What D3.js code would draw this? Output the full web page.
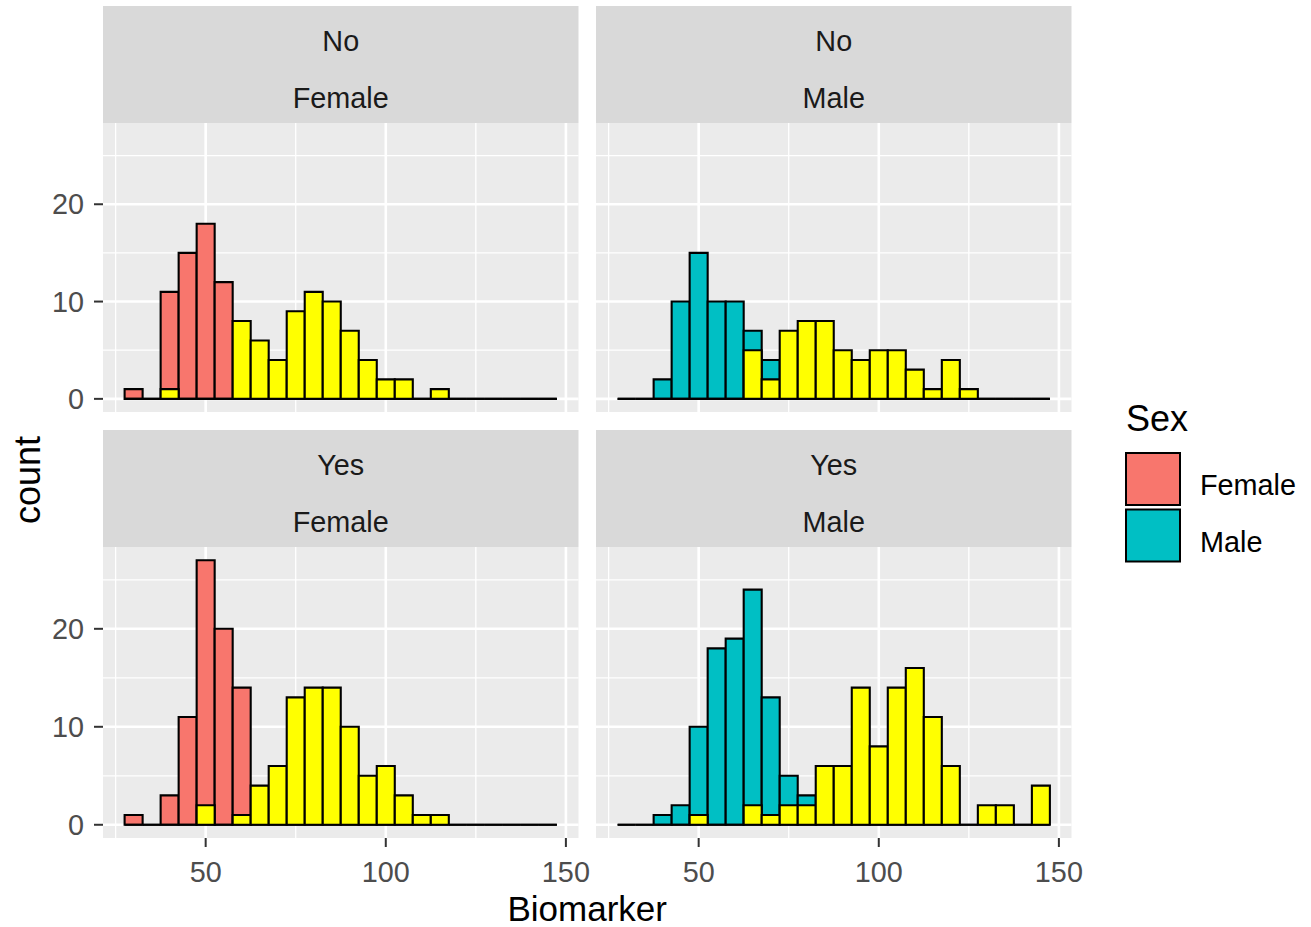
<!DOCTYPE html>
<html>
<head>
<meta charset="utf-8">
<script src="https://cdn.jsdelivr.net/npm/d3@7"></script>
<style>
  html, body { margin: 0; padding: 0; background: #fff; }
  svg { display: block; font-family: "Liberation Sans", Arial, sans-serif; }
</style>
</head>
<body>
<svg id="chart" width="1311" height="927"></svg>
<script>
// Histogram bins: width 5, centred on 30, 35, ..., 145
const binCenters = [30, 35, 40, 45, 50, 55, 60, 65, 70, 75, 80, 85,
                    90, 95, 100, 105, 110, 115, 120, 125, 130, 135, 140, 145];
const binWidth = 5;

// Facet labels
const diagnosisLevels = ["No", "Yes"];
const sexLevels = ["Female", "Male"];

// Counts per bin for the Sex-coloured histogram
const noFemaleCounts  = [1, 0, 11, 15, 18, 12, 0, 0, 0, 0, 0, 0, 0, 0, 0, 0, 0, 0, 0, 0, 0, 0, 0, 0];
const noMaleCounts    = [0, 0, 2, 10, 15, 10, 10, 7, 4, 0, 0, 0, 0, 0, 0, 0, 0, 0, 0, 0, 0, 0, 0, 0];
const yesFemaleCounts = [1, 0, 3, 11, 27, 20, 14, 0, 0, 0, 0, 0, 0, 0, 0, 0, 0, 0, 0, 0, 0, 0, 0, 0];
const yesMaleCounts   = [0, 0, 1, 2, 10, 18, 19, 24, 13, 5, 3, 0, 0, 0, 0, 0, 0, 0, 0, 0, 0, 0, 0, 0];

// Counts per bin for the yellow overlay histogram
const noFemaleOverlay  = [0, 0, 1, 0, 0, 0, 8, 6, 4, 9, 11, 10, 7, 4, 2, 2, 0, 1, 0, 0, 0, 0, 0, 0];
const noMaleOverlay    = [0, 0, 0, 0, 0, 0, 0, 5, 2, 7, 8, 8, 5, 4, 5, 5, 3, 1, 4, 1, 0, 0, 0, 0];
const yesFemaleOverlay = [0, 0, 0, 0, 2, 0, 1, 4, 6, 13, 14, 14, 10, 5, 6, 3, 1, 1, 0, 0, 0, 0, 0, 0];
const yesMaleOverlay   = [0, 0, 0, 0, 1, 0, 0, 2, 1, 2, 2, 6, 6, 14, 8, 14, 16, 11, 6, 0, 2, 2, 0, 4];

const xTicks = [50, 100, 150];
const xMinor = [25, 75, 125];
const yTicks = [0, 10, 20];
const yMinor = [5, 15, 25];

const sexColors = { Female: "#F8766D", Male: "#00BFC4" };
const overlayColor = "#FFFF00";

const panels = [
  { row: 0, col: 0, diag: "No",  sex: "Female", counts: noFemaleCounts,  overlay: noFemaleOverlay },
  { row: 0, col: 1, diag: "No",  sex: "Male",   counts: noMaleCounts,    overlay: noMaleOverlay },
  { row: 1, col: 0, diag: "Yes", sex: "Female", counts: yesFemaleCounts, overlay: yesFemaleOverlay },
  { row: 1, col: 1, diag: "Yes", sex: "Male",   counts: yesMaleCounts,   overlay: yesMaleOverlay }
];

// Layout
const colX = [103, 596];
const panelW = 475.5;
const stripTop = [6, 430];
const stripH = 117;
const panelH = [289, 291];

const svg = d3.select("#chart");

// Shared x scale (fixed across facets), 5% expansion
const xLo = binCenters[0] - binWidth / 2, xHi = binCenters[binCenters.length - 1] + binWidth / 2;
const xPad = (xHi - xLo) * 0.05;
const x = d3.scaleLinear().domain([xLo - xPad, xHi + xPad]).range([0, panelW]);

const yMax = d3.max(panels, p => Math.max(d3.max(p.counts), d3.max(p.overlay)));
const yPad = yMax * 0.05;

panels.forEach(p => {
  const gx = colX[p.col];
  const sTop = stripTop[p.row];
  const pTop = sTop + stripH;
  const h = panelH[p.row];
  const y = d3.scaleLinear().domain([-yPad, yMax + yPad]).range([h, 0]);

  const barPath = (c, n) => {
    const x0 = x(c - binWidth / 2), x1 = x(c + binWidth / 2);
    const y0 = y(0), y1 = y(n);
    return `M${x0},${y0}V${y1}H${x1}V${y0}Z`;
  };

  // Strip
  const strip = svg.append("g").attr("transform", `translate(${gx},${sTop})`);
  strip.append("rect").attr("width", panelW).attr("height", stripH).attr("fill", "#D9D9D9");
  strip.append("text").attr("x", panelW / 2).attr("y", 35).attr("dy", "0.35em")
    .attr("text-anchor", "middle").attr("font-size", 28.8).attr("fill", "#1A1A1A").text(p.diag);
  strip.append("text").attr("x", panelW / 2).attr("y", 92).attr("dy", "0.35em")
    .attr("text-anchor", "middle").attr("font-size", 28.8).attr("fill", "#1A1A1A").text(p.sex);

  const g = svg.append("g").attr("transform", `translate(${gx},${pTop})`);
  g.append("rect").attr("width", panelW).attr("height", h).attr("fill", "#EBEBEB");

  // Grid lines
  g.selectAll(".xminor").data(xMinor).join("line")
    .attr("x1", d => x(d)).attr("x2", d => x(d)).attr("y1", 0).attr("y2", h)
    .attr("stroke", "#fff").attr("stroke-width", 1.3);
  g.selectAll(".yminor").data(yMinor).join("line")
    .attr("y1", d => y(d)).attr("y2", d => y(d)).attr("x1", 0).attr("x2", panelW)
    .attr("stroke", "#fff").attr("stroke-width", 1.3);
  g.selectAll(".xmajor").data(xTicks).join("line")
    .attr("x1", d => x(d)).attr("x2", d => x(d)).attr("y1", 0).attr("y2", h)
    .attr("stroke", "#fff").attr("stroke-width", 2.6);
  g.selectAll(".ymajor").data(yTicks).join("line")
    .attr("y1", d => y(d)).attr("y2", d => y(d)).attr("x1", 0).attr("x2", panelW)
    .attr("stroke", "#fff").attr("stroke-width", 2.6);

  // Sex-coloured histogram
  g.append("g").selectAll("path").data(binCenters.map((c, i) => ({ c, n: p.counts[i] }))).join("path")
    .attr("d", d => barPath(d.c, d.n))
    .attr("fill", sexColors[p.sex]).attr("stroke", "#000").attr("stroke-width", 2.1);

  // Yellow overlay histogram
  g.append("g").selectAll("path").data(binCenters.map((c, i) => ({ c, n: p.overlay[i] }))).join("path")
    .attr("d", d => barPath(d.c, d.n))
    .attr("fill", overlayColor).attr("stroke", "#000").attr("stroke-width", 2.1);

  // Y axis on the left column
  if (p.col === 0) {
    const ya = g.append("g");
    ya.selectAll("line").data(yTicks).join("line")
      .attr("x1", -9).attr("x2", 0).attr("y1", d => y(d)).attr("y2", d => y(d))
      .attr("stroke", "#333").attr("stroke-width", 2);
    ya.selectAll("text").data(yTicks).join("text")
      .attr("x", -19).attr("y", d => y(d)).attr("dy", "0.35em")
      .attr("text-anchor", "end").attr("font-size", 28.8).attr("fill", "#4D4D4D")
      .text(d => d);
  }
  // X axis on the bottom row
  if (p.row === 1) {
    const xa = g.append("g").attr("transform", `translate(0,${h})`);
    xa.selectAll("line").data(xTicks).join("line")
      .attr("x1", d => x(d)).attr("x2", d => x(d)).attr("y1", 0).attr("y2", 9)
      .attr("stroke", "#333").attr("stroke-width", 2);
    xa.selectAll("text").data(xTicks).join("text")
      .attr("x", d => x(d)).attr("y", 34).attr("dy", "0.35em")
      .attr("text-anchor", "middle").attr("font-size", 28.8).attr("fill", "#4D4D4D")
      .text(d => d);
  }
});

// Axis titles
svg.append("text").attr("x", (colX[0] + colX[1] + panelW) / 2).attr("y", 909).attr("dy", "0.35em")
  .attr("text-anchor", "middle").attr("font-size", 35).attr("fill", "#000").text("Biomarker");
svg.append("text").attr("transform", "translate(27,480) rotate(-90)").attr("dy", "0.35em")
  .attr("text-anchor", "middle").attr("font-size", 36).attr("fill", "#000").text("count");

// Legend
const legend = svg.append("g").attr("transform", "translate(1125,0)");
legend.append("text").attr("x", 1).attr("y", 418).attr("dy", "0.35em")
  .attr("font-size", 36).attr("fill", "#000").text("Sex");
sexLevels.forEach((s, i) => {
  const top = 453 + i * 56.5;
  legend.append("rect").attr("x", 1).attr("y", top).attr("width", 54).attr("height", 52)
    .attr("fill", sexColors[s]).attr("stroke", "#000").attr("stroke-width", 2);
  legend.append("text").attr("x", 75).attr("y", top + 32).attr("dy", "0.35em")
    .attr("font-size", 28.8).attr("fill", "#000").text(s);
});
</script>
</body>
</html>
